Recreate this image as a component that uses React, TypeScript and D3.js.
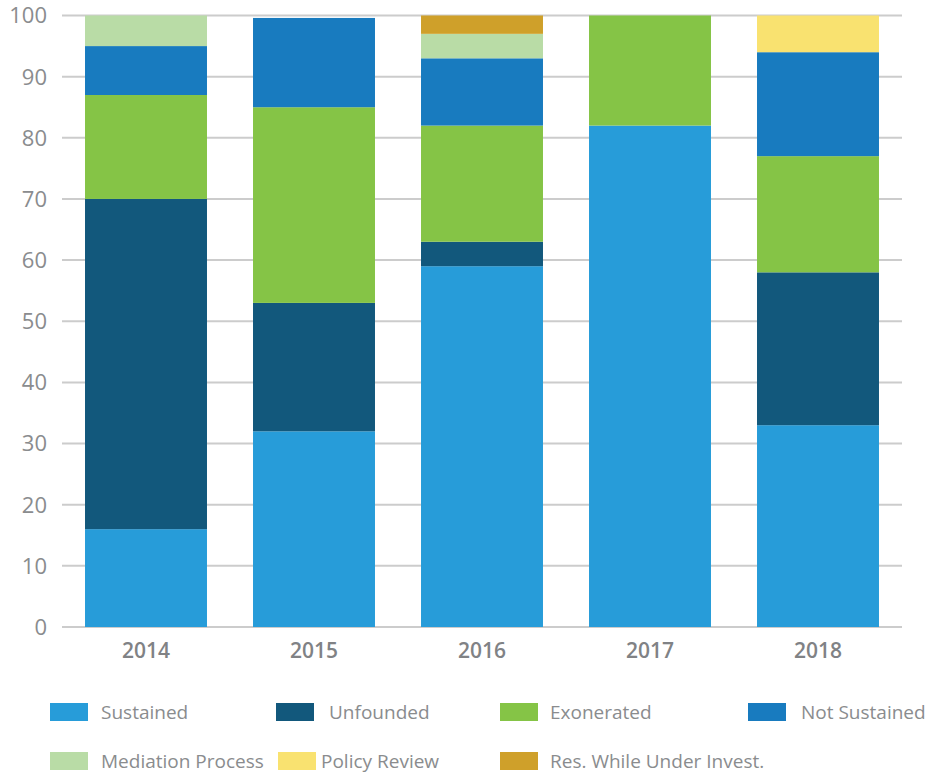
import React from "react";
import * as d3 from "d3";

const years = ["2014", "2015", "2016", "2017", "2018"];
const seriesNames = ["Sustained", "Unfounded", "Exonerated", "Not Sustained", "Mediation Process", "Policy Review", "Res. While Under Invest."];
const sustained = [16, 32, 59, 82, 33];
const unfounded = [54, 21, 4, 0, 25];
const exonerated = [17, 32, 19, 18, 19];
const notSustained = [8, 14.6, 11, 0, 17];
const mediation = [5, 0, 4, 0, 0];
const policyReview = [0, 0, 0, 0, 6];
const resWhileUnder = [0, 0, 3, 0, 0];
const yTicks = [0, 10, 20, 30, 40, 50, 60, 70, 80, 90, 100];
const colors = ["#279CD9", "#12587C", "#85C446", "#187BBF", "#B9DCA6", "#F9E270", "#CFA02A"];

const W = 930, H = 773;
const left = 62, right = 902, top = 15.5, bottom = 627;
const font = "'Open Sans', sans-serif";

export default function App() {
  const values = [sustained, unfounded, exonerated, notSustained, mediation, policyReview, resWhileUnder];
  const rows = years.map((y, i) => {
    const r: any = { year: y };
    seriesNames.forEach((s, k) => (r[s] = values[k][i]));
    return r;
  });
  const stacked = d3.stack().keys(seriesNames)(rows);
  const x = d3.scaleBand().domain(years).range([left, right]).paddingInner(0.274).paddingOuter(0.137);
  const y = d3.scaleLinear().domain([0, 100]).range([bottom, top]);

  const legendPos = [
    [50, 703], [276, 703], [500, 703], [748, 703],
    [50, 752], [278, 752], [500, 752],
  ];
  const legendTextX = [101, 329, 550, 801, 101, 321, 550];

  return (
    <svg width={W} height={H} style={{ position: "absolute", left: 0, top: 0 }}>
      {yTicks.map((t) => (
        <g key={t}>
          <line x1={left} x2={right} y1={y(t)} y2={y(t)} stroke="#cccccc" strokeWidth={2} />
          <text x={47} y={y(t)} dy="0.36em" textAnchor="end" fill="#8a8c8e" fontSize={22} fontFamily={font}>{t}</text>
        </g>
      ))}
      {stacked.map((s, k) => (
        <g key={s.key} fill={colors[k]}>
          {s.map((d, i) => d[1] - d[0] > 0 ? (
            <rect key={i} x={x(years[i])} width={x.bandwidth()} y={y(d[1])} height={y(d[0]) - y(d[1])} />
          ) : null)}
        </g>
      ))}
      {years.map((yr) => (
        <text key={yr} x={(x(yr) as number) + x.bandwidth() / 2} y={658} textAnchor="middle" fill="#808285" fontSize={21} fontWeight={600} fontFamily={font}>{yr}</text>
      ))}
      {seriesNames.map((n, k) => (
        <g key={n}>
          <rect x={legendPos[k][0]} y={legendPos[k][1]} width={38} height={18} fill={colors[k]} />
          <text x={legendTextX[k]} y={legendPos[k][1] + 9} dy="0.35em" fill="#8a8c8e" fontSize={19} fontFamily={font}>{n}</text>
        </g>
      ))}
    </svg>
  );
}
